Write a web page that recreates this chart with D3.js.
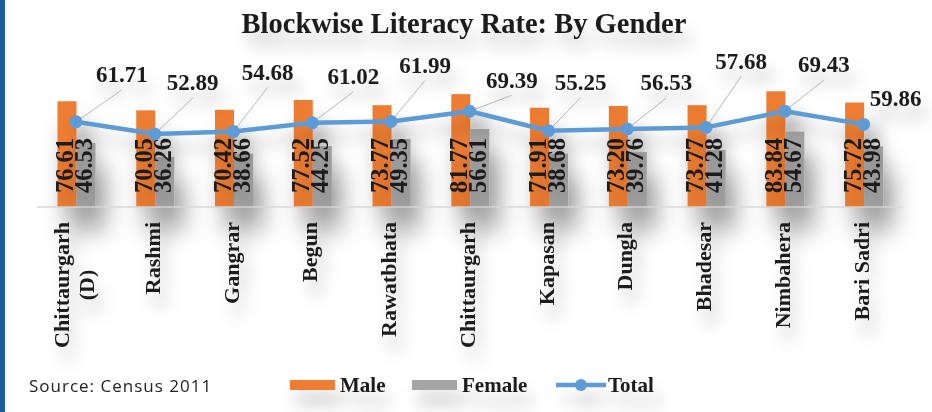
<!DOCTYPE html>
<html lang="en">
  <head>
    <meta charset="utf-8">
    <title>Blockwise Literacy Rate: By Gender</title>
    <script src="https://d3js.org/d3.v7.min.js"></script>
    <style>
      body { margin: 0; background: white; }
      svg { display: block; font-family: 'Liberation Serif', serif; }
      .bold { font-weight: bold; fill: #1a1a1a; }
      .source { font-family: 'Open Sans', sans-serif; fill: #222; letter-spacing: 1px; }
    </style>
  </head>
  <body>
  <div id="chart"></div>
  <script>

  // data
  var blocks = ["Chittaurgarh (D)", "Rashmi", "Gangrar", "Begun", "Rawatbhata", "Chittaurgarh",
                "Kapasan", "Dungla", "Bhadesar", "Nimbahera", "Bari Sadri"];
  var male   = [76.61, 70.05, 70.42, 77.52, 73.77, 81.77, 71.91, 73.20, 73.77, 83.84, 75.72];
  var female = [46.53, 36.26, 38.66, 44.25, 49.35, 56.61, 38.68, 39.76, 41.28, 54.67, 43.98];
  var total  = [61.71, 52.89, 54.68, 61.02, 61.99, 69.39, 55.25, 56.53, 57.68, 69.43, 59.86];

  // where each total label sits relative to its marker (dragged by hand in the original)
  var labelShift = [[46,-45],[38,-49],[34,-57],[41,-44],[34,-54],[42,-29],[32,-46],[39,-44],[35,-64],[39,-44],[32,-24]];

  var colors = {Male: "#ed7d31", Female: "#a5a5a5", Total: "#5b9bd5"};

  var W = 932, H = 412;
  var svg = d3.select("#chart").append("svg")
      .attr("width", W).attr("height", H);

  // soft excel-like shadows
  var defs = svg.append("defs");
  var f = defs.append("filter").attr("id", "shadow")
      .attr("x", "-30%").attr("y", "-30%").attr("width", "160%").attr("height", "200%");
  f.append("feDropShadow").attr("dx", 10).attr("dy", 24)
      .attr("stdDeviation", 12).attr("flood-color", "#000").attr("flood-opacity", 0.36);
  var f2 = defs.append("filter").attr("id", "tshadow")
      .attr("x", "-30%").attr("y", "-30%").attr("width", "160%").attr("height", "200%");
  f2.append("feDropShadow").attr("dx", 6).attr("dy", 14)
      .attr("stdDeviation", 8).attr("flood-color", "#000").attr("flood-opacity", 0.22);

  // left blue border
  svg.append("rect").attr("x", 0).attr("y", 0).attr("width", 5).attr("height", H).attr("fill", "#1f5c9e");

  var rows = blocks.map(function(b, i) {
    return {name: b, Male: male[i], Female: female[i], Total: total[i], i: i};
  });

  var x0 = d3.scaleBand().domain(blocks).range([36.6, 903]).padding(0);
  var bw = x0.bandwidth();
  var x1 = d3.scaleBand().domain(["Male", "Female"]).range([bw / 2 - 18.5, bw / 2 + 19.5]).padding(0);
  var y = d3.scaleLinear().domain([0, 100]).range([207, 69]);

  var titleG = svg.append("g").attr("filter", "url(#tshadow)");
  titleG.append("text").attr("class", "bold")
      .attr("x", 464).attr("y", 33)
      .attr("text-anchor", "middle")
      .style("font-size", "28.5px")
      .text("Blockwise Literacy Rate: By Gender");

  // bars
  var barG = svg.append("g").attr("filter", "url(#shadow)");
  var groups = barG.selectAll("g.block").data(rows).enter().append("g")
      .attr("transform", function(d) { return "translate(" + x0(d.name) + ",0)"; });

  groups.selectAll("rect").data(function(d) {
      return ["Male", "Female"].map(function(k) { return {key: k, value: d[k]}; });
    }).enter().append("rect")
      .attr("x", function(d) { return x1(d.key); })
      .attr("width", x1.bandwidth())
      .attr("y", function(d) { return y(d.value); })
      .attr("height", function(d) { return y(0) - y(d.value); })
      .attr("fill", function(d) { return colors[d.key]; });

  // axis baseline
  svg.append("line")
      .attr("x1", x0.range()[0]).attr("x2", x0.range()[1])
      .attr("y1", y(0)).attr("y2", y(0))
      .attr("stroke", "#d9d9d9").attr("stroke-width", 1.5);

  var labelLayer = svg.append("g").attr("filter", "url(#tshadow)");

  // bar value labels, rotated, inside base
  rows.forEach(function(d) {
    ["Male", "Female"].forEach(function(k) {
      var bx = x0(d.name) + x1(k) + x1.bandwidth() / 2;
      labelLayer.append("text").attr("class", "bold")
        .attr("transform", "translate(" + (bx + 0.5) + "," + (y(0) - 14) + ") rotate(-90)")
        .attr("dominant-baseline", "middle")
        .style("font-size", "24.5px")
        .text(d3.format(".2f")(d[k]));
    });
  });

  // category labels
  var cx = function(d) { return x0(d) + bw / 2; };
  blocks.forEach(function(b) {
    var g = labelLayer.append("g").attr("transform", "translate(" + cx(b) + ",222) rotate(-90)");
    var t = g.append("text").attr("class", "bold")
        .attr("text-anchor", "end").attr("dominant-baseline", "middle")
        .style("font-size", "22px").text(b);
    if (t.node().getComputedTextLength() > 140) {
      var words = b.split(" ");
      var last = words.pop();
      t.text(words.join(" ")).attr("y", -12);
      var w1 = t.node().getComputedTextLength();
      g.append("text").attr("class", "bold")
        .attr("x", -w1 / 2).attr("y", 13)
        .attr("text-anchor", "middle").attr("dominant-baseline", "middle")
        .style("font-size", "22px").text(last);
    }
  });

  // total line
  var pts = rows.map(function(d) { return [cx(d.name), y(d.Total)]; });

  // leader lines
  rows.forEach(function(d, i) {
    var lx = pts[i][0] + labelShift[i][0], ly = pts[i][1] + labelShift[i][1];
    var ex = lx, ey = ly + 13;
    if (Math.hypot(ex - pts[i][0], ey - pts[i][1]) > 40) {
      svg.append("line")
        .attr("x1", pts[i][0]).attr("y1", pts[i][1])
        .attr("x2", ex).attr("y2", ey)
        .attr("stroke", "#a6a6a6").attr("stroke-width", 0.8);
    }
  });

  var lineG = svg.append("g").attr("filter", "url(#tshadow)");
  lineG.append("path").datum(pts)
      .attr("d", d3.line())
      .attr("fill", "none")
      .attr("stroke", colors.Total).attr("stroke-width", 4.5)
      .attr("stroke-linejoin", "round");

  lineG.selectAll("circle.tot").data(pts).enter().append("circle")
      .attr("class", "tot")
      .attr("cx", function(d) { return d[0]; })
      .attr("cy", function(d) { return d[1]; })
      .attr("r", 6.5)
      .attr("fill", colors.Total);

  labelLayer.selectAll("text.tot").data(rows).enter().append("text")
      .attr("class", "bold tot")
      .attr("x", function(d, i) { return pts[i][0] + labelShift[i][0]; })
      .attr("y", function(d, i) { return pts[i][1] + labelShift[i][1]; })
      .attr("text-anchor", "middle").attr("dominant-baseline", "middle")
      .style("font-size", "23px")
      .text(function(d) { return d3.format(".2f")(d.Total); });

  // source note
  svg.append("text").attr("class", "source")
      .attr("x", 29).attr("y", 392)
      .style("font-size", "17px")
      .text("Source: Census 2011");

  // legend
  var leg = svg.append("g").attr("filter", "url(#tshadow)");
  var legItems = [
    {key: "Male", x: 290},
    {key: "Female", x: 412},
    {key: "Total", x: 556}
  ];
  legItems.forEach(function(it) {
    if (it.key === "Total") {
      leg.append("line").attr("x1", it.x).attr("x2", it.x + 50)
        .attr("y1", 385).attr("y2", 385)
        .attr("stroke", colors.Total).attr("stroke-width", 4.5);
      leg.append("circle").attr("cx", it.x + 25).attr("cy", 385).attr("r", 6)
        .attr("fill", colors.Total);
    } else {
      leg.append("rect").attr("x", it.x).attr("y", 380)
        .attr("width", 45).attr("height", 10).attr("fill", colors[it.key]);
    }
    leg.append("text").attr("class", "bold")
      .attr("x", it.x + (it.key === "Total" ? 52 : 50)).attr("y", 392)
      .style("font-size", "21px")
      .text(it.key);
  });

  </script>
  </body>
</html>
